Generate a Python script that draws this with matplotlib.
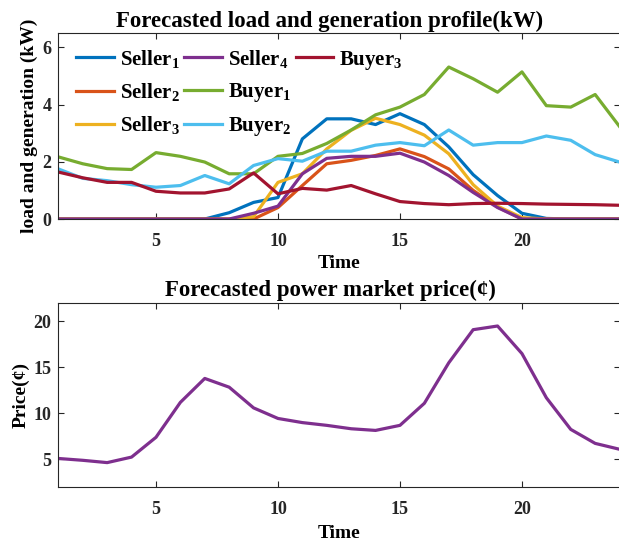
import numpy as np
import matplotlib
matplotlib.use("Agg")
import matplotlib.pyplot as plt
from matplotlib.lines import Line2D

plt.rcParams["font.family"] = ["Liberation Serif", "DejaVu Serif"]
plt.rcParams["font.weight"] = "bold"
plt.rcParams["mathtext.fontset"] = "custom"
plt.rcParams["mathtext.rm"] = "Liberation Serif:bold"
plt.rcParams["mathtext.it"] = "Liberation Serif:bold"
plt.rcParams["mathtext.bf"] = "Liberation Serif:bold"
plt.rcParams["mathtext.default"] = "bf"

# Hours
hours = np.arange(1, 25)

# Forecasted generation / load (kW)
seller1 = [0, 0, 0, 0, 0, 0, 0, 0.22, 0.58, 0.75, 2.8, 3.5, 3.5, 3.3, 3.68, 3.3, 2.52, 1.55, 0.82, 0.2, 0.02, 0, 0, 0]
seller2 = [0, 0, 0, 0, 0, 0, 0, 0, 0, 0.4, 1.17, 1.93, 2.05, 2.22, 2.45, 2.18, 1.75, 1.0, 0.42, 0, 0, 0, 0, 0]
seller3 = [0, 0, 0, 0, 0, 0, 0, 0, 0.08, 1.28, 1.58, 2.45, 3.1, 3.52, 3.3, 2.93, 2.28, 1.2, 0.45, 0.05, 0, 0, 0, 0]
seller4 = [0, 0, 0, 0, 0, 0, 0, 0, 0.2, 0.45, 1.58, 2.12, 2.19, 2.19, 2.3, 1.99, 1.52, 0.93, 0.4, 0, 0, 0, 0, 0]
buyer1 = [2.17, 1.93, 1.76, 1.73, 2.32, 2.19, 1.99, 1.58, 1.58, 2.19, 2.29, 2.64, 3.11, 3.64, 3.91, 4.35, 5.31, 4.9, 4.43, 5.14, 3.96, 3.91, 4.35, 3.23]
buyer2 = [1.75, 1.42, 1.34, 1.2, 1.11, 1.17, 1.52, 1.23, 1.87, 2.11, 2.02, 2.37, 2.37, 2.58, 2.67, 2.56, 3.11, 2.58, 2.67, 2.67, 2.9, 2.75, 2.25, 1.99]
buyer3 = [1.64, 1.44, 1.28, 1.28, 0.97, 0.91, 0.91, 1.05, 1.61, 0.88, 1.07, 1.01, 1.17, 0.88, 0.61, 0.54, 0.5, 0.54, 0.55, 0.54, 0.52, 0.51, 0.5, 0.48]

# Forecasted power market price (cents)
price = [5.1, 4.9, 4.65, 5.25, 7.4, 11.2, 13.8, 12.85, 10.6, 9.45, 9.0, 8.7, 8.33, 8.15, 8.7, 11.1, 15.5, 19.1, 19.5, 16.5, 11.7, 8.26, 6.74, 6.1]

names = ["Seller$_1$", "Seller$_2$", "Seller$_3$", "Seller$_4$", "Buyer$_1$", "Buyer$_2$", "Buyer$_3$"]
series = [seller1, seller2, seller3, seller4, buyer1, buyer2, buyer3]
colors = ["#0072BD", "#D95319", "#EDB120", "#7E2F8E", "#77AC30", "#4DBEEE", "#A2142F"]

fig = plt.figure(figsize=(6.19, 5.44), dpi=100)
ax1 = fig.add_axes([0.0943, 0.5974, 0.9066, 0.342])
ax2 = fig.add_axes([0.0943, 0.1048, 0.9066, 0.3382])

handles = []
for name, vals, c in zip(names, series, colors):
    h, = ax1.plot(hours, vals, color=c, linewidth=2.3, label=name)
    handles.append(h)

ax2.plot(hours, price, color="#7E2F8E", linewidth=2.3)

# blank entries so the legend columns fill as 3 / 3 / 1
blank = Line2D([], [], linestyle="none")
leg_h = handles + [blank, blank]
leg_l = names + ["", ""]
ax1.legend(leg_h, leg_l, ncol=3, loc="upper left", frameon=False,
           handlelength=1.8, columnspacing=0.2,
           handletextpad=0.3, labelspacing=0.55, borderaxespad=0.3,
           bbox_to_anchor=(0.006, 1.0), prop={"weight": "bold", "size": 15})

ax1.set_xlim(1, 24)
ax1.set_ylim(0, 6.5)
ax1.set_xticks([5, 10, 15, 20])
ax1.set_yticks([0, 2, 4, 6])
ax1.set_title("Forecasted load and generation profile(kW)", fontsize=16.5,
              fontweight="bold", x=0.484, pad=4)
ax1.set_xlabel("Time", fontsize=14, fontweight="bold", labelpad=4)
ax1.set_ylabel("load and generation (kW)", fontsize=14, fontweight="bold", labelpad=3)

ax2.set_xlim(1, 24)
ax2.set_ylim(2, 22)
ax2.set_xticks([5, 10, 15, 20])
ax2.set_yticks([5, 10, 15, 20])
ax2.set_title("Forecasted power market price(\u00a2)", fontsize=16.5,
              fontweight="bold", x=0.484, pad=5)
ax2.set_xlabel("Time", fontsize=14, fontweight="bold", labelpad=5)
ax2.set_ylabel("Price(\u00a2)", fontsize=14, fontweight="bold", labelpad=3)

for ax in (ax1, ax2):
    ax.tick_params(direction="in", top=True, right=True, labelsize=13,
                   colors="#262626", length=4, width=0.8)
    ax.tick_params(axis="x", pad=10)
    ax.tick_params(axis="y", pad=5)
    for sp in ax.spines.values():
        sp.set_color("#262626")
        sp.set_linewidth(0.8)

fig.savefig("out.png", dpi=100)
